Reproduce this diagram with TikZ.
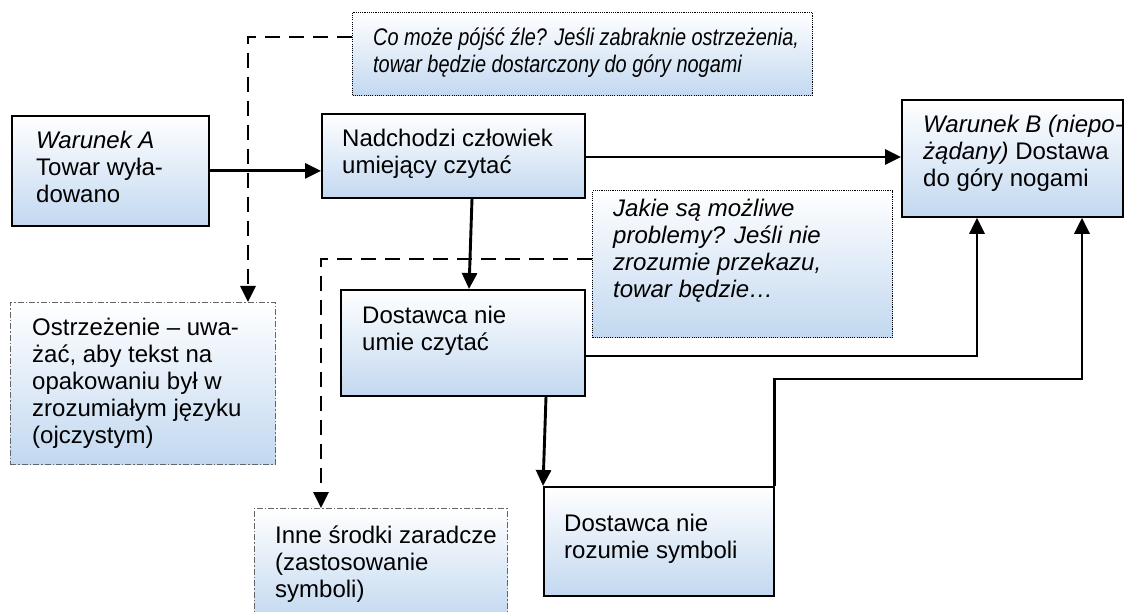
\documentclass[tikz,border=0pt]{standalone}
\usepackage{fontspec}
\setmainfont{Liberation Sans}
\newfontfamily\narrowsans[FakeStretch=0.83]{Liberation Sans}
\usetikzlibrary{arrows.meta,calc,shadows}
\definecolor{boxblue}{RGB}{194,216,240}
\begin{document}
\begin{tikzpicture}[x=1pt,y=-1pt,
  box/.style={draw=black,line width=1.8pt,top color=white,bottom color=boxblue,
    anchor=north west,inner sep=0pt,
    drop shadow={shadow xshift=1.5pt,shadow yshift=-1.5pt,fill=black!30,opacity=0.7}},
  notebox/.style={draw=black,line width=1.1pt,dash pattern=on 1.1pt off 1.1pt,
    top color=white,bottom color=boxblue,anchor=north west,inner sep=0pt},
  hintbox/.style={draw=black!60,line width=0.9pt,dash pattern=on 6pt off 2pt on 1.5pt off 2pt,
    top color=white,bottom color=boxblue,anchor=north west,inner sep=0pt},
  txt/.style={anchor=base west,align=left,inner sep=0pt,
    font=\fontsize{24}{27}\selectfont},
  conn/.style={line width=2.9pt,-{Triangle[length=16pt,width=15pt]}},
  dconn/.style={conn,dash pattern=on 15pt off 9pt}]
\useasboundingbox (0,0) rectangle (1135,612);

% boxes
\node[box,minimum width=197pt,minimum height=110pt] (A) at (11,115) {};
\node[box,minimum width=263pt,minimum height=84pt] (N) at (321,113) {};
\node[notebox,minimum width=460pt,minimum height=83pt] (Q1) at (352,12) {};
\node[box,minimum width=221pt,minimum height=117pt] (B) at (901,99) {};
\node[notebox,minimum width=300pt,minimum height=147pt] (Q2) at (592,190) {};
\node[box,minimum width=244pt,minimum height=106pt] (D1) at (340,289) {};
\node[hintbox,minimum width=265pt,minimum height=162pt] (W) at (10,302) {};
\node[hintbox,minimum width=253pt,minimum height=112pt] (I) at (254,508) {};
\node[box,minimum width=230pt,minimum height=109pt] (D2) at (543,486) {};

% texts (anchored at the baseline of the last line)
\node[txt] (tA) at (36,203) {\textit{Warunek A}\\Towar wyła-\\dowano};
\node[txt] (tN) at (342,174) {Nadchodzi człowiek\\umiejący czytać};
\node[txt,font=\fontsize{24}{27}\narrowsans\itshape] (tQ1) at (373,73)
  {Co może pójść źle? Jeśli zabraknie ostrzeżenia,\\towar będzie dostarczony do góry nogami};
\node[txt] (tB) at (923,187) {\textit{Warunek B (niepo-}\\\textit{żądany)} Dostawa\\do góry nogami};
\node[txt] (tQ2) at (613,298) {\itshape Jakie są możliwe\\\itshape problemy? Jeśli nie\\\itshape zrozumie przekazu,\\\itshape towar będzie…};
\node[txt] (tD1) at (362,350) {Dostawca nie\\umie czytać};
\node[txt] (tW) at (32,443) {Ostrzeżenie – uwa-\\żać, aby tekst na\\opakowaniu był w\\zrozumiałym języku\\(ojczystym)};
\node[txt] (tI) at (275,597) {Inne środki zaradcze\\(zastosowanie\\symboli)};
\node[txt] (tD2) at (564,558) {Dostawca nie\\rozumie symboli};

% solid connectors
\draw[conn] (A.east) -- (A.east -| N.west);
\draw[conn] (N.east |- 0,157) -- (B.west |- 0,157);
\draw[conn] (N.south -| 472,0) -- (D1.north -| 469,0);
\draw[conn] (D1.east |- 0,356) -| (B.south -| 977,0);
\draw[conn] (D2.north east) |- (1082,379) -- (B.south -| 1082,0);
\draw[conn] (D1.south -| 546,0) -- (D2.north west);

% dashed connectors
\draw[dconn] (Q1.west |- 0,37) -| (W.north -| 248,0);
\draw[dconn] (Q2.west |- 0,259) -| (I.north -| 321,0);
\end{tikzpicture}
\end{document}
